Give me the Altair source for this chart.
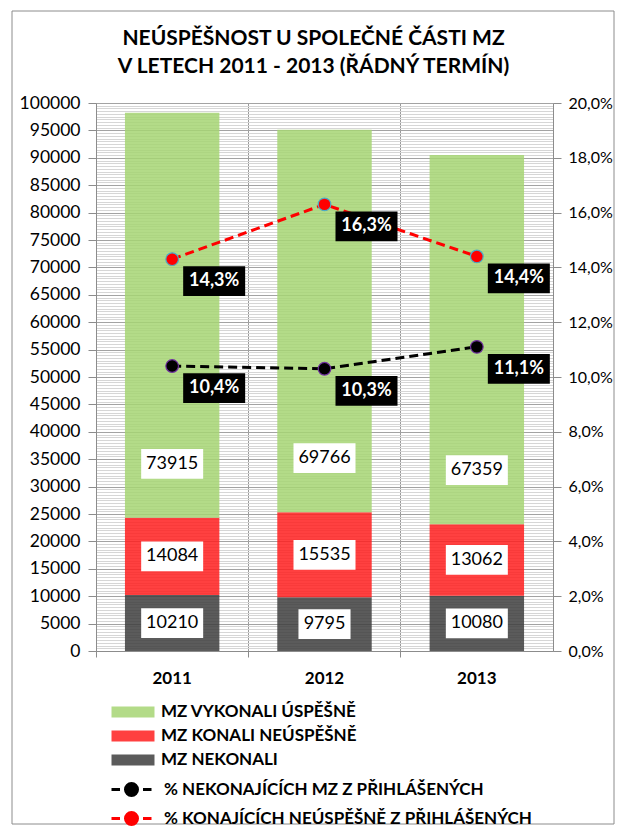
import altair as alt
import pandas as pd

# ---------------- data ----------------
YEARS = ["2011", "2012", "2013"]
USPESNE = [73915, 69766, 67359]      # MZ vykonali úspěšně
NEUSPESNE = [14084, 15535, 13062]    # MZ konali neúspěšně
NEKONALI = [10210, 9795, 10080]      # MZ nekonali
PCT_NEKONAJICICH = [10.4, 10.3, 11.1]
PCT_NEUSPESNYCH = [14.3, 16.3, 14.4]

BAR_SERIES = ["MZ VYKONALI ÚSPĚŠNĚ", "MZ KONALI NEÚSPĚŠNĚ", "MZ NEKONALI"]
LINE_SERIES = ["% NEKONAJÍCÍCH MZ Z PŘIHLÁŠENÝCH", "% KONAJÍCÍCH NEÚSPĚŠNĚ Z PŘIHLÁŠENÝCH"]
TITLE = ["NEÚSPĚŠNOST U SPOLEČNÉ ČÁSTI MZ", "V LETECH 2011 - 2013 (ŘÁDNÝ TERMÍN)"]
LEFT_TICKS = list(range(0, 100001, 500))
RIGHT_TICKS = [0, 0.02, 0.04, 0.06, 0.08, 0.10, 0.12, 0.14, 0.16, 0.18, 0.20]

BAR_COLORS = ["#A6D573", "#FF1E1E", "#3E3E3E"]
LINE_COLORS = ["#000000", "#FF0000"]
FONT = "Lato"

bar_rows = []
for series, order, vals in [(BAR_SERIES[2], 0, NEKONALI),
                            (BAR_SERIES[1], 1, NEUSPESNE),
                            (BAR_SERIES[0], 2, USPESNE)]:
    for yr, v in zip(YEARS, vals):
        bar_rows.append({"year": yr, "series": series, "order": order,
                         "value": v, "label": str(v)})
bars_df = pd.DataFrame(bar_rows)

line_rows = []
for series, vals in [(LINE_SERIES[0], PCT_NEKONAJICICH), (LINE_SERIES[1], PCT_NEUSPESNYCH)]:
    for yr, p in zip(YEARS, vals):
        line_rows.append({"year": yr, "series": series, "pct": p / 100.0,
                          "label": f"{p:.1f}".replace(".", ",") + "%"})
lines_df = pd.DataFrame(line_rows)

# ---------------- encodings ----------------
X = alt.X("year:N", title=None,
          scale=alt.Scale(paddingInner=0, paddingOuter=0),
          axis=alt.Axis(bandPosition=0, grid=True, gridColor="#9a9a9a", gridWidth=1,
                        domainColor="#8c8c8c", tickColor="#8c8c8c", tickSize=6,
                        labelAngle=0, labelFont=FONT, labelFontSize=17, labelFontWeight="bold",
                        labelColor="black", labelPadding=13, labelBound=False))

left_scale = alt.Scale(domain=[0, 100000], nice=False, zero=True)
LEFT_AXIS = alt.Axis(
    values=LEFT_TICKS,
    labelExpr="datum.value % 5000 === 0 ? format(datum.value, 'd') : ''",
    grid=True,
    gridColor={"condition": {"test": "datum.value % 5000 === 0", "value": "#a3a3a3"}, "value": "#d6d6d6"},
    tickColor={"condition": {"test": "datum.value % 5000 === 0", "value": "#8c8c8c"}, "value": "transparent"},
    tickSize=8, domainColor="#8c8c8c",
    labelFont=FONT, labelFontSize=17.5, labelColor="black", labelPadding=8,
    labelOverlap=False, labelFlush=False,
)

right_scale = alt.Scale(domain=[0, 0.2], nice=False, zero=True)
RIGHT_AXIS = alt.Axis(
    orient="right", values=RIGHT_TICKS, grid=False,
    labelExpr="replace(format(datum.value, '.1%'), '.', ',')",
    tickSize=8, tickColor="#8c8c8c", domainColor="#8c8c8c",
    labelFont=FONT, labelFontSize=16, labelColor="black", labelPadding=7,
    labelOverlap=False, labelFlush=False,
)

RECT_PATH = "M-2,-0.51H2V0.51H-2Z"
LINE_PATH = ("M-2,0H-1.15M1.15,0H2"
             "M0.6,0A0.6,0.6,0,1,1,-0.6,0A0.6,0.6,0,1,1,0.6,0Z")
BOX5 = "M-1,-0.48H1V0.48H-1Z"
BOX4 = "M-0.84,-0.48H0.84V0.48H-0.84Z"

# ---------------- left (bars) ----------------
stacked = alt.Chart(bars_df).transform_stack(
    stack="value", groupby=["year"], as_=["v0", "v1"],
    sort=[alt.SortField("order", order="ascending")],
).transform_calculate(mid="(datum.v0 + datum.v1) / 2")

bars = stacked.mark_bar(opacity=0.85, width=alt.RelativeBandSize(0.62)).encode(
    x=X,
    y=alt.Y("v0:Q", scale=left_scale, axis=LEFT_AXIS, title=None),
    y2="v1:Q",
    fill=alt.Fill("series:N",
                  scale=alt.Scale(domain=BAR_SERIES, range=BAR_COLORS),
                  legend=alt.Legend(title=None, orient="none", legendX=26, legendY=598,
                                    direction="vertical", symbolType=RECT_PATH, symbolSize=462,
                                    symbolStrokeWidth=0, labelFont=FONT, labelFontSize=17,
                                    labelFontWeight="bold", labelColor="black",
                                    labelOffset=17, rowPadding=5, labelLimit=500)),
)

mid_boxes = stacked.transform_filter("datum.order < 2").mark_point(
    filled=True, fill="white", opacity=1, size=3844, strokeWidth=0
).encode(
    x=X, y=alt.Y("mid:Q", scale=left_scale, axis=LEFT_AXIS, title=None),
    shape=alt.condition("length(datum.label) > 4", alt.value(BOX5), alt.value(BOX4)),
)
mid_text = stacked.transform_filter("datum.order < 2").mark_text(
    font=FONT, fontSize=18, color="black", baseline="middle", align="center"
).encode(
    x=X, y=alt.Y("mid:Q", scale=left_scale, axis=LEFT_AXIS, title=None),
    text="label:N",
)
top_boxes = stacked.transform_filter("datum.order == 2").mark_point(
    filled=True, fill="white", opacity=1, size=3844, strokeWidth=0, yOffset=-54
).encode(
    x=X, y=alt.Y("v0:Q", scale=left_scale, axis=LEFT_AXIS, title=None),
    shape=alt.condition("length(datum.label) > 4", alt.value(BOX5), alt.value(BOX4)),
)
top_text = stacked.transform_filter("datum.order == 2").mark_text(
    font=FONT, fontSize=18, color="black", baseline="middle", align="center", yOffset=-54
).encode(
    x=X, y=alt.Y("v0:Q", scale=left_scale, axis=LEFT_AXIS, title=None),
    text="label:N",
)

frame = alt.Chart(alt.Data(values=[{"f": 1}])).mark_rect(
    filled=False, stroke="#8c8c8c", strokeWidth=1
).encode(x=alt.value(-84), x2=alt.value(518), y=alt.value(-92), y2=alt.value(721))

left = alt.layer(frame, bars, mid_boxes, mid_text, top_boxes, top_text)

# ---------------- right (lines) ----------------
Y_R = alt.Y("pct:Q", scale=right_scale, axis=RIGHT_AXIS, title=None)
lbase = alt.Chart(lines_df)

lines = lbase.mark_line(strokeWidth=3, strokeDash=[9, 5]).encode(
    x=X, y=Y_R,
    stroke=alt.Stroke("series:N",
                      scale=alt.Scale(domain=LINE_SERIES, range=LINE_COLORS),
                      legend=alt.Legend(title=None, orient="none", legendX=24, legendY=675,
                                        direction="vertical", symbolType=LINE_PATH, symbolSize=400,
                                        symbolStrokeWidth=3, symbolDash=[1000, 0],
                                        symbolFillColor={"expr": "indexof(datum.value, 'NEKONAJ') >= 0 ? '#000000' : '#FF0000'"},
                                        labelFont=FONT, labelFontSize=17, labelFontWeight="bold",
                                        labelColor="black", labelOffset=21, rowPadding=4,
                                        labelLimit=500)),
    detail="series:N",
)
points = lbase.mark_point(filled=True, size=160, opacity=1, strokeWidth=1.2).encode(
    x=X, y=Y_R,
    fill=alt.condition(f"datum.series == '{LINE_SERIES[0]}'", alt.value("#000000"), alt.value("#FF0000")),
    stroke=alt.condition(f"datum.series == '{LINE_SERIES[0]}'", alt.value("#7030A0"), alt.value("#4BACC6")),
)
pboxes = lbase.mark_point(filled=True, fill="black", opacity=1, size=3844, strokeWidth=0,
                          shape=BOX5, xOffset=42, yOffset=22).encode(x=X, y=Y_R)
ptext = lbase.mark_text(font=FONT, fontSize=18, fontWeight="bold", color="white",
                        align="center", baseline="middle", xOffset=42, yOffset=22).encode(
    x=X, y=Y_R, text="label:N")

right = alt.layer(lines, points, pboxes, ptext)

chart = alt.layer(left, right).resolve_scale(y="independent").properties(
    width=457, height=548,
    title=alt.TitleParams(TITLE, font=FONT, fontSize=21, fontWeight="bold", color="black",
                          anchor="middle", dx=-11, offset=-66, lineHeight=28),
    autosize=alt.AutoSizeParams(type="none"),
    padding={"left": 88, "top": 95, "right": 62, "bottom": 175},
).configure_view(stroke=None).configure(background="white")

chart.save("out.html", embed_options={"renderer": "svg", "actions": False})
